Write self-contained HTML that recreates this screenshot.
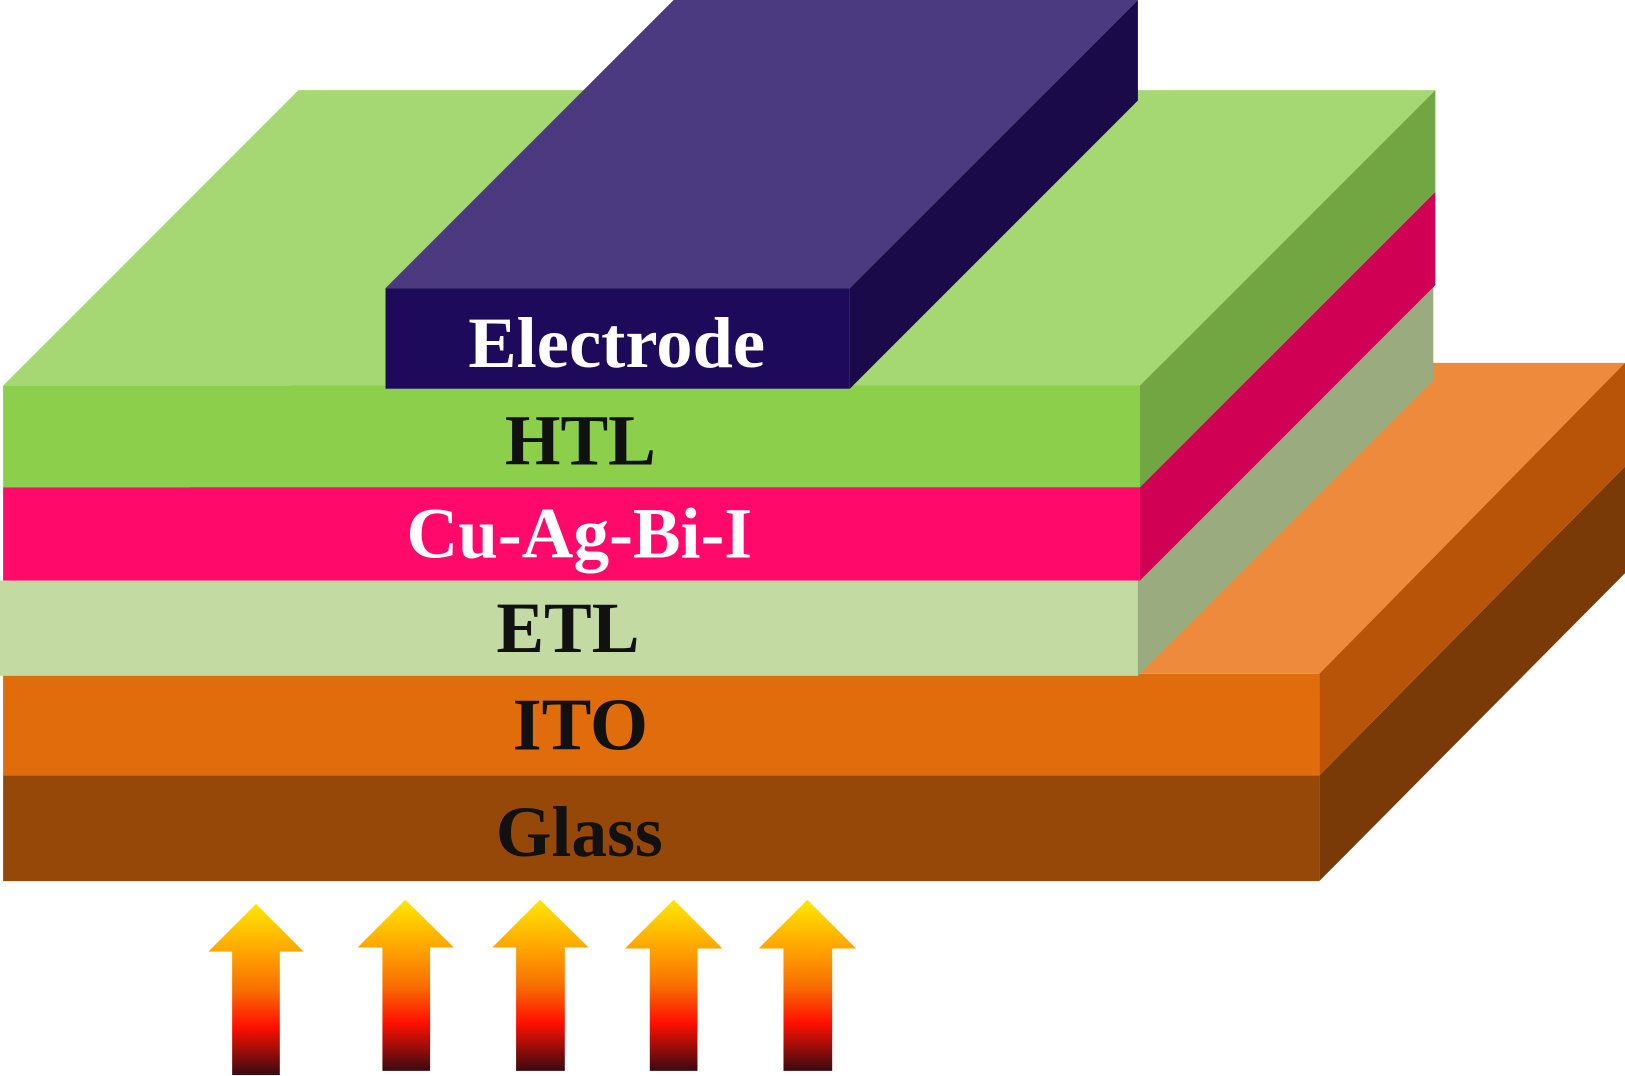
<!DOCTYPE html>
<html><head><meta charset="utf-8"><style>
html,body{margin:0;padding:0;background:#fff;}
svg{display:block;}
text{font-family:"Liberation Serif",serif;font-weight:bold;text-anchor:middle;}
</style></head><body>
<svg width="1625" height="1076" viewBox="0 0 1568 1038" preserveAspectRatio="none" xmlns="http://www.w3.org/2000/svg">
<defs>
<linearGradient id="ar" x1="0" y1="0" x2="0" y2="1">
<stop offset="0" stop-color="#ffe800"/>
<stop offset="0.3" stop-color="#ffa000"/>
<stop offset="0.5" stop-color="#f87000"/>
<stop offset="0.72" stop-color="#ff1000"/>
<stop offset="1" stop-color="#3a0a10"/>
</linearGradient>
</defs>
<rect x="3" y="748" width="1270" height="102" fill="#964808"/>
<polygon points="1273,748 1568,450 1568,553 1273,850" fill="#7a3a08"/>
<polygon points="3,650 303,350 1568,350 1273,650" fill="#ee8a3c"/>
<rect x="3" y="650" width="1270" height="98" fill="#e06c0c"/>
<polygon points="1273,650 1568,350 1568,450 1273,748" fill="#b85408"/>
<rect x="0" y="560" width="1098" height="92" fill="#c3dba3"/>
<polygon points="1098,560 1383,275 1383,367 1098,652" fill="#9bab80"/>
<rect x="3" y="470" width="1097" height="90" fill="#ff0a6a"/>
<polygon points="1100,470 1385,185 1385,275 1100,560" fill="#d00055"/>
<polygon points="3,372 288,87 1385,87 1100,372" fill="#a5d873"/>
<rect x="3" y="372" width="1097" height="98" fill="#8ccf4a"/>
<polygon points="1100,372 1385,87 1385,185 1100,470" fill="#72a642"/>
<polygon points="372,278 650,0 1098,0 820,278" fill="#4b3a80"/>
<polygon points="820,278 1098,0 1098,97 820,375" fill="#1a0a4a"/>
<rect x="372" y="278" width="448" height="97" fill="#1e0a5a"/>
<text x="595" y="354" font-size="70" fill="#fff">Electrode</text>
<text x="560" y="448" font-size="69" fill="#111">HTL</text>
<text x="559" y="538" font-size="69" fill="#fff">Cu-Ag-Bi-I</text>
<text x="548" y="629" font-size="69" fill="#111">ETL</text>
<text x="560" y="723" font-size="72" fill="#111">ITO</text>
<text x="559" y="826" font-size="69" fill="#111">Glass</text>
<polygon points="247,872 293,918 270,918 270,1037 224,1037 224,918 201,918" fill="url(#ar)"/>
<polygon points="391,868 438,914 415,914 415,1033 369,1033 369,914 345,914" fill="url(#ar)"/>
<polygon points="521,868 568,914 545,914 545,1033 498,1033 498,914 475,914" fill="url(#ar)"/>
<polygon points="650,868 697,915 673,915 673,1033 627,1033 627,915 603,915" fill="url(#ar)"/>
<polygon points="779,868 826,915 803,915 803,1033 756,1033 756,915 732,915" fill="url(#ar)"/>
</svg>
</body></html>
